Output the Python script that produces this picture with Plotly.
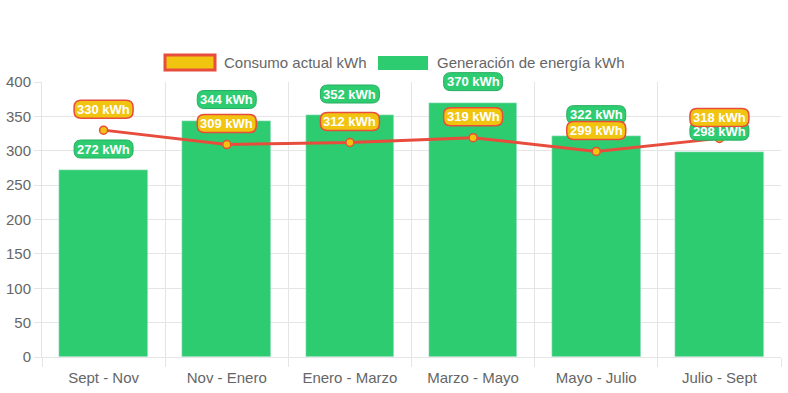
import plotly.graph_objects as go

categories = ["Sept - Nov", "Nov - Enero", "Enero - Marzo", "Marzo - Mayo", "Mayo - Julio", "Julio - Sept"]
consumo = [330, 309, 312, 319, 299, 318]
generacion = [272, 344, 352, 370, 322, 298]
series_names = ["Consumo actual kWh", "Generación de energía kWh"]
unit = " kWh"
y_max = 400

W, H = 788, 393
L, T = 42, 82
PW, PH = 739, 275
R, B = W - L - PW, H - T - PH

RED = "#e74c3c"
YELLOW = "#f1c40f"
GREEN = "#2ecc71"
GRID = "#e5e5e5"
FONT = "Liberation Sans, Arial, sans-serif"


def px_x(px):
    return (px - L) / PW


def px_y(py):
    return (T + PH - py) / PH


def rounded_box(w, h, r, cy):
    x0, x1 = -w / 2, w / 2
    y0, y1 = cy - h / 2, cy + h / 2
    return (f"M {x0 + r},{y0} L {x1 - r},{y0} Q {x1},{y0} {x1},{y0 + r} "
            f"L {x1},{y1 - r} Q {x1},{y1} {x1 - r},{y1} L {x0 + r},{y1} "
            f"Q {x0},{y1} {x0},{y1 - r} L {x0},{y0 + r} Q {x0},{y0} {x0 + r},{y0} Z")


fig = go.Figure()
fig.add_bar(x=categories, y=generacion, name=series_names[1], marker_color=GREEN,
            width=0.72, showlegend=False)
fig.add_scatter(x=categories, y=consumo, name=series_names[0], mode="lines+markers",
                line=dict(color=RED, width=3),
                marker=dict(size=8, color=YELLOW, line=dict(color=RED, width=1.5)),
                showlegend=False)

shapes = []
annotations = []
OFF = 21
BOX = rounded_box(59, 18, 7, OFF)

for i, v in enumerate(generacion):
    shapes.append(dict(type="path", xref="x", yref="paper", xsizemode="pixel", ysizemode="pixel",
                       xanchor=i, yanchor=v / y_max, path=BOX, fillcolor=GREEN,
                       line=dict(color="#27ae60", width=1), layer="above"))
for i, v in enumerate(consumo):
    shapes.append(dict(type="path", xref="x", yref="paper", xsizemode="pixel", ysizemode="pixel",
                       xanchor=i, yanchor=v / y_max, path=BOX, fillcolor=YELLOW,
                       line=dict(color=RED, width=1.5), layer="above"))
for i, v in enumerate(generacion):
    annotations.append(dict(x=categories[i], y=v, xref="x", yref="y", yshift=OFF, showarrow=False,
                            text=f"<b>{v}{unit}</b>", font=dict(color="white", size=13, family=FONT)))
for i, v in enumerate(consumo):
    annotations.append(dict(x=categories[i], y=v, xref="x", yref="y", yshift=OFF, showarrow=False,
                            text=f"<b>{v}{unit}</b>", font=dict(color="white", size=13, family=FONT)))

# legend drawn manually
shapes.append(dict(type="rect", xref="paper", yref="paper",
                   x0=px_x(165), x1=px_x(215), y0=px_y(70), y1=px_y(55),
                   fillcolor=YELLOW, line=dict(color=RED, width=3)))
shapes.append(dict(type="rect", xref="paper", yref="paper",
                   x0=px_x(378), x1=px_x(428), y0=px_y(70), y1=px_y(56),
                   fillcolor=GREEN, line=dict(width=0)))
annotations.append(dict(x=px_x(222), y=px_y(62.5), xref="paper", yref="paper", xanchor="left",
                        yanchor="middle", showarrow=False, text=series_names[0],
                        font=dict(color="#666666", size=15, family=FONT)))
annotations.append(dict(x=px_x(435), y=px_y(62.5), xref="paper", yref="paper", xanchor="left",
                        yanchor="middle", showarrow=False, text=series_names[1],
                        font=dict(color="#666666", size=15, family=FONT)))

fig.update_layout(
    width=W, height=H,
    margin=dict(l=L, r=R, t=T, b=B, autoexpand=False),
    paper_bgcolor="white", plot_bgcolor="white",
    font=dict(family=FONT, size=15, color="#666666"),
    shapes=shapes, annotations=annotations,
    bargap=0, showlegend=False,
)
fig.update_xaxes(type="category", tickson="boundaries", showgrid=True, gridcolor=GRID,
                 ticks="outside", ticklen=9, tickcolor=GRID, showline=True, linecolor=GRID,
                 range=[-0.5, 5.5], ticklabelstandoff=7, automargin=False)
fig.update_yaxes(range=[0, y_max], dtick=50, showgrid=True, gridcolor=GRID, ticks="outside",
                 ticklen=7, tickcolor=GRID, showline=True, linecolor=GRID, zeroline=False,
                 automargin=False)

fig.write_html("out.html", config={"displayModeBar": False},
               post_script="document.body.style.margin='0';document.body.style.overflow='hidden';")
